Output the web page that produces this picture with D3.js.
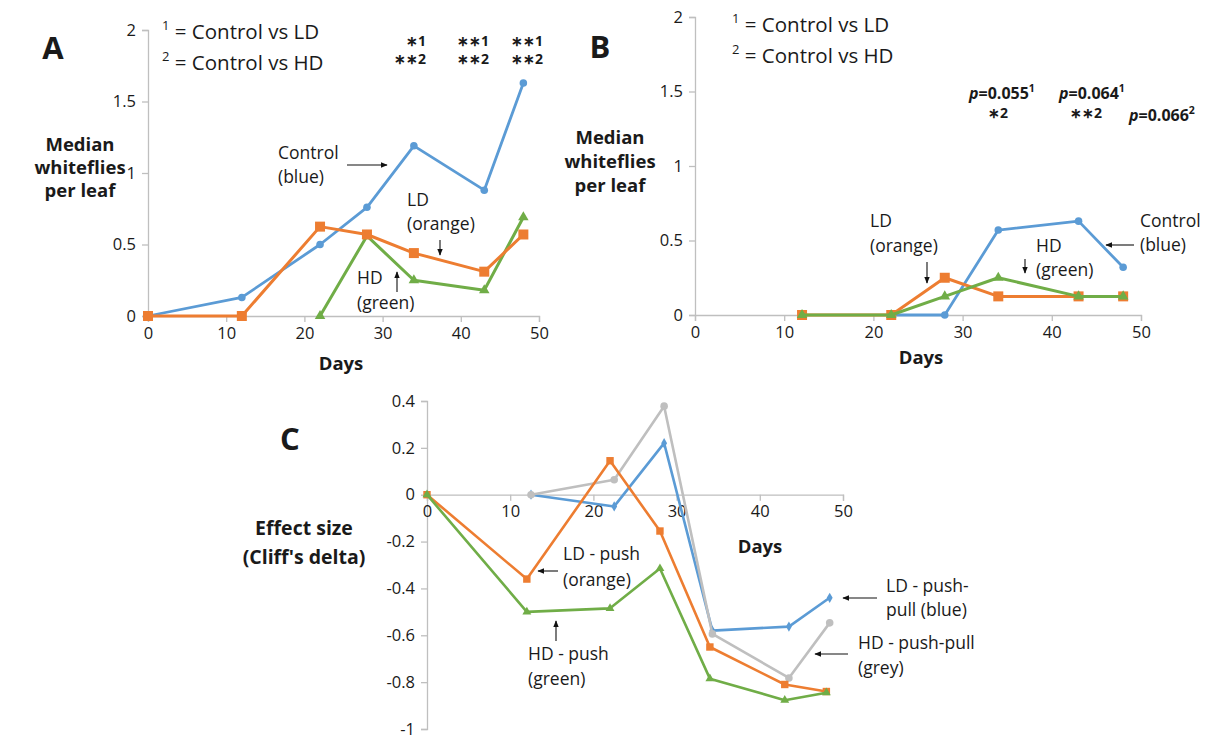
<!DOCTYPE html>
<html>
<head>
<meta charset="utf-8">
<script src="https://cdn.jsdelivr.net/npm/d3@7"></script>
<style>
  html, body { margin: 0; padding: 0; background: #fff; }
  svg text { font-family: "Open Sans", "Noto Sans", sans-serif; fill: #1a1a1a; }
</style>
</head>
<body>
<svg id="fig" width="1229" height="740"></svg>
<script>
// ---- Panel A: median whiteflies per leaf (first trial) ----
const daysA    = [0, 12, 22, 28, 34, 43, 48];
const controlA = [0, 0.13, 0.50, 0.76, 1.19, 0.88, 1.63];
const ldA      = [0, 0, 0.625, 0.57, 0.44, 0.31, 0.57];
const hdA      = [null, null, 0, 0.56, 0.25, 0.18, 0.69];

// ---- Panel B: median whiteflies per leaf (second trial) ----
const daysB    = [12, 22, 28, 34, 43, 48];
const controlB = [null, 0, 0, 0.57, 0.63, 0.32];
const ldB      = [0, 0, 0.25, 0.125, 0.125, 0.125];
const hdB      = [0, 0, 0.125, 0.25, 0.125, 0.125];

// ---- Panel C: effect size (Cliff's delta) ----
const daysPush     = [0, 12, 22, 28, 34, 43, 48];
const ldPush       = [0, -0.36, 0.145, -0.155, -0.65, -0.81, -0.84];
const hdPush       = [0, -0.50, -0.485, -0.315, -0.785, -0.877, -0.845];
const daysPushPull = [12.5, 22.5, 28.5, 34.3, 43.5, 48.4];
const ldPushPull   = [0, -0.05, 0.22, -0.58, -0.563, -0.44];
const hdPushPull   = [0, 0.064, 0.378, -0.594, -0.782, -0.547];

// tick labels
const xTicks   = [0, 10, 20, 30, 40, 50];
const yTicksAB = [0, 0.5, 1, 1.5, 2];
const yTicksC  = [0.4, 0.2, 0, -0.2, -0.4, -0.6, -0.8, -1];

const COL = { blue: "#5B9BD5", orange: "#ED7D31", green: "#70AD47", grey: "#BFBFBF" };
const AXIS = "#BFBFBF";
const STAR = "\u2217";

const svg = d3.select("#fig");

// arrowhead used by the callout arrows
svg.append("defs").append("marker")
  .attr("id", "arrowhead")
  .attr("viewBox", "0 0 10 10")
  .attr("refX", 9).attr("refY", 5)
  .attr("markerWidth", 7).attr("markerHeight", 7)
  .attr("markerUnits", "userSpaceOnUse")
  .attr("orient", "auto")
  .append("path").attr("d", "M0,1 L10,5 L0,9 Z").attr("fill", "#111");

function drawAxes(g, x, y, yTicks, xAxisAt) {
  const yAxis = g.append("g")
    .attr("transform", `translate(${x(0)},0)`)
    .call(d3.axisLeft(y).tickValues(yTicks).tickSizeOuter(0).tickSize(6).tickPadding(6)
      .tickFormat(d => d3.format("")(d).replace("\u2212", "-")));
  const xAxis = g.append("g")
    .attr("transform", `translate(0,${y(xAxisAt)})`)
    .call(d3.axisBottom(x).tickValues(xTicks).tickSizeOuter(0).tickSize(6).tickPadding(5));
  [yAxis, xAxis].forEach(a => {
    a.select(".domain").attr("stroke", AXIS).attr("stroke-width", 1.3);
    a.selectAll(".tick line").attr("stroke", AXIS).attr("stroke-width", 1.3);
    a.selectAll(".tick text").attr("font-size", 16.5).attr("fill", "#1a1a1a")
      .style("font-family", '"Open Sans", sans-serif');
  });
  return { xAxis, yAxis };
}

function drawSeries(g, x, y, days, vals, color, shape, size, width) {
  const pts = days.map((d, i) => ({ d, v: vals[i] })).filter(p => p.v !== null && p.v !== undefined);
  const line = d3.line().x(p => x(p.d)).y(p => y(p.v));
  g.append("path").datum(pts)
    .attr("d", line)
    .attr("fill", "none")
    .attr("stroke", color)
    .attr("stroke-width", width)
    .attr("stroke-linejoin", "round");
  g.selectAll(null).data(pts).enter().append("path")
    .attr("transform", p => `translate(${x(p.d)},${y(p.v)})`)
    .attr("d", d3.symbol().type(shape).size(size))
    .attr("fill", color);
}

function textLines(g, x, y, lines, opts = {}) {
  const t = g.append("text")
    .attr("x", x).attr("y", y)
    .attr("font-size", opts.size || 17.5)
    .attr("font-weight", opts.bold ? "bold" : "normal")
    .attr("text-anchor", opts.anchor || "start")
    .attr("dominant-baseline", "central");
  lines.forEach((l, i) => {
    t.append("tspan").attr("x", x).attr("dy", i === 0 ? 0 : (opts.lh || 24)).text(l);
  });
  return t;
}

function arrow(g, x1, y1, x2, y2) {
  g.append("line")
    .attr("x1", x1).attr("y1", y1).attr("x2", x2).attr("y2", y2)
    .attr("stroke", "#111").attr("stroke-width", 1.1)
    .attr("marker-end", "url(#arrowhead)");
}

// legend lines "¹ = Control vs LD" etc.
function keyLine(g, x, y, sup, rest) {
  const t = g.append("text").attr("x", x).attr("y", y)
    .attr("font-size", 20.5).attr("dominant-baseline", "central");
  t.append("tspan").attr("font-size", 13).attr("dy", -6).text(sup);
  t.append("tspan").attr("dy", 6).text(" " + rest);
}

// stat annotation with an italic p and a superscript index
function pNote(g, x, y, val, sup) {
  const t = g.append("text").attr("x", x).attr("y", y)
    .attr("font-size", 16).attr("font-weight", "bold").attr("dominant-baseline", "central");
  t.append("tspan").attr("font-style", "italic").text("p");
  t.append("tspan").text("=" + val);
  t.append("tspan").attr("font-size", 10.5).attr("dy", -5).text(sup);
}

// significance stars, one per line, right aligned
function starNote(g, xRight, y, lines) {
  lines.forEach((l, i) => {
    g.append("text").attr("x", xRight).attr("y", y + i * 18)
      .attr("text-anchor", "end").attr("dominant-baseline", "central")
      .attr("font-size", 14).attr("font-weight", "bold").text(l);
  });
}

// ================= Panel A =================
{
  const g = svg.append("g");
  const x = d3.scaleLinear().domain([0, 50]).range([148, 539]);
  const y = d3.scaleLinear().domain([0, 2]).range([316, 30]);
  drawAxes(g, x, y, yTicksAB, 0);

  drawSeries(g, x, y, daysA, controlA, COL.blue, d3.symbolCircle, 45, 2.8);
  drawSeries(g, x, y, daysA, hdA, COL.green, d3.symbolTriangle, 48, 3);
  drawSeries(g, x, y, daysA, ldA, COL.orange, d3.symbolSquare, 100, 3);

  g.append("text").attr("x", 53).attr("y", 47).attr("text-anchor", "middle")
    .attr("dominant-baseline", "central").attr("font-size", 31).attr("font-weight", "bold").text("A");
  textLines(g, 80, 143, ["Median", "whiteflies", "per leaf"], { bold: true, size: 18.5, anchor: "middle", lh: 23 });
  g.append("text").attr("x", 341).attr("y", 362).attr("text-anchor", "middle")
    .attr("dominant-baseline", "central").attr("font-size", 18.5).attr("font-weight", "bold").text("Days");

  keyLine(g, 162, 31, "1", "= Control vs LD");
  keyLine(g, 162, 62, "2", "= Control vs HD");

  starNote(g, 426, 40, [STAR + "1", STAR + STAR + "2"]);
  starNote(g, 489, 40, [STAR + STAR + "1", STAR + STAR + "2"]);
  starNote(g, 543, 40, [STAR + STAR + "1", STAR + STAR + "2"]);

  textLines(g, 278, 152, ["Control", "(blue)"], { lh: 24 });
  arrow(g, 347, 165, 387, 165);
  textLines(g, 407, 199, ["LD", "(orange)"], { lh: 24 });
  arrow(g, 440, 240, 440, 255);
  textLines(g, 357, 277, ["HD", "(green)"], { lh: 25 });
  arrow(g, 397, 292, 397, 272);
}

// ================= Panel B =================
{
  const g = svg.append("g");
  const x = d3.scaleLinear().domain([0, 50]).range([695, 1141]);
  const y = d3.scaleLinear().domain([0, 2]).range([315, 17]);
  drawAxes(g, x, y, yTicksAB, 0);

  drawSeries(g, x, y, daysB, controlB, COL.blue, d3.symbolCircle, 45, 2.8);
  drawSeries(g, x, y, daysB, ldB, COL.orange, d3.symbolSquare, 100, 3);
  drawSeries(g, x, y, daysB, hdB, COL.green, d3.symbolTriangle, 48, 3);

  g.append("text").attr("x", 600).attr("y", 46).attr("text-anchor", "middle")
    .attr("dominant-baseline", "central").attr("font-size", 31).attr("font-weight", "bold").text("B");
  textLines(g, 610, 136, ["Median", "whiteflies", "per leaf"], { bold: true, size: 18.5, anchor: "middle", lh: 24 });
  g.append("text").attr("x", 921).attr("y", 356).attr("text-anchor", "middle")
    .attr("dominant-baseline", "central").attr("font-size", 18.5).attr("font-weight", "bold").text("Days");

  keyLine(g, 732, 24, "1", "= Control vs LD");
  keyLine(g, 732, 55, "2", "= Control vs HD");

  pNote(g, 969, 93, "0.055", "1");
  starNote(g, 1008, 112, [STAR + "2"]);
  pNote(g, 1059, 93, "0.064", "1");
  starNote(g, 1102, 112, [STAR + STAR + "2"]);
  pNote(g, 1129, 115, "0.066", "2");

  textLines(g, 870, 220, ["LD", "(orange)"], { lh: 25 });
  arrow(g, 927, 262, 927, 283);
  textLines(g, 1036, 245, ["HD", "(green)"], { lh: 24 });
  arrow(g, 1025, 259, 1025, 273);
  textLines(g, 1140, 220, ["Control", "(blue)"], { lh: 24 });
  arrow(g, 1134, 245, 1106, 245);
}

// ================= Panel C =================
{
  const g = svg.append("g");
  const x = d3.scaleLinear().domain([0, 50]).range([427, 843]);
  const y = d3.scaleLinear().domain([-1, 0.4]).range([729, 401]);
  drawAxes(g, x, y, yTicksC, 0);

  drawSeries(g, x, y, daysPushPull, ldPushPull, COL.blue, d3.symbolDiamond, 30, 2.6);
  drawSeries(g, x, y, daysPushPull, hdPushPull, COL.grey, d3.symbolCircle, 45, 2.6);
  drawSeries(g, x, y, daysPush, ldPush, COL.orange, d3.symbolSquare, 55, 2.6);
  drawSeries(g, x, y, daysPush, hdPush, COL.green, d3.symbolTriangle, 34, 2.6);

  g.append("text").attr("x", 290).attr("y", 438).attr("text-anchor", "middle")
    .attr("dominant-baseline", "central").attr("font-size", 31).attr("font-weight", "bold").text("C");
  textLines(g, 304, 527, ["Effect size", "(Cliff's delta)"], { bold: true, size: 19.5, anchor: "middle", lh: 29 });
  g.append("text").attr("x", 760).attr("y", 545).attr("text-anchor", "middle")
    .attr("dominant-baseline", "central").attr("font-size", 18.5).attr("font-weight", "bold").text("Days");

  textLines(g, 563, 553, ["LD - push", "(orange)"], { lh: 26 });
  arrow(g, 558, 571, 538, 571);
  textLines(g, 528, 653, ["HD - push", "(green)"], { lh: 25 });
  arrow(g, 556, 641, 556, 621);
  textLines(g, 886, 585, ["LD - push-", "pull (blue)"], { lh: 24 });
  arrow(g, 877, 598, 843, 598);
  textLines(g, 858, 642, ["HD - push-pull", "(grey)"], { lh: 25 });
  arrow(g, 848, 654, 815, 654);
}
</script>
</body>
</html>
